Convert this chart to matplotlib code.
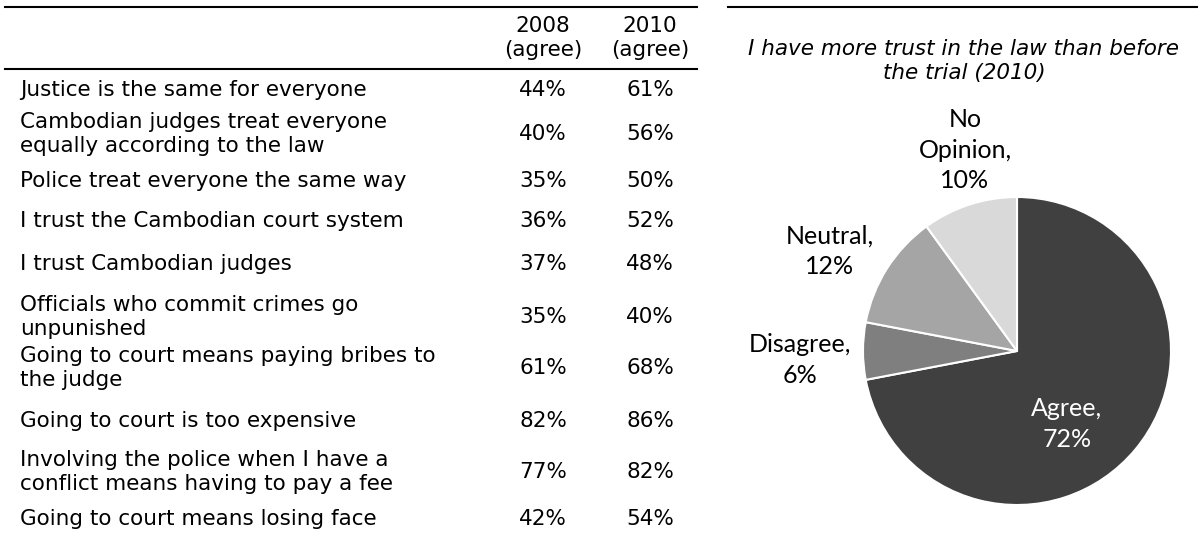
import matplotlib
matplotlib.use("Agg")
import matplotlib.pyplot as plt

plt.rcParams["font.family"] = ["DejaVu Sans"]

# table data
statements = [
    "Justice is the same for everyone",
    "Cambodian judges treat everyone\nequally according to the law",
    "Police treat everyone the same way",
    "I trust the Cambodian court system",
    "I trust Cambodian judges",
    "Officials who commit crimes go\nunpunished",
    "Going to court means paying bribes to\nthe judge",
    "Going to court is too expensive",
    "Involving the police when I have a\nconflict means having to pay a fee",
    "Going to court means losing face",
]
agree_2008 = [44, 40, 35, 36, 37, 35, 61, 82, 77, 42]
agree_2010 = [61, 56, 50, 52, 48, 40, 68, 86, 82, 54]
col_headers = ["2008\n(agree)", "2010\n(agree)"]

# pie data
pie_title = "I have more trust in the law than before\nthe trial (2010)"
pie_labels = ["Agree", "Disagree", "Neutral", "No\nOpinion"]
pie_values = [72, 6, 12, 10]
pie_colors = ["#404040", "#7f7f7f", "#a5a5a5", "#d9d9d9"]

W, H = 1198, 541
fig = plt.figure(figsize=(W / 100, H / 100), dpi=100)

# pie first, the text layer goes on top of it
cx, cy, r = 1017, 351, 154
pax = fig.add_axes([(cx - r) / W, (H - cy - r) / H, 2 * r / W, 2 * r / H])
pax.pie(pie_values, colors=pie_colors, startangle=90, counterclock=False,
        wedgeprops=dict(edgecolor="white", linewidth=1.5))
pax.set_xlim(-1, 1)
pax.set_ylim(-1, 1)
pax.set_aspect("equal")

# overlay axes in pixel coords for the table and labels
ax = fig.add_axes([0, 0, 1, 1])
ax.set_xlim(0, W)
ax.set_ylim(H, 0)
ax.axis("off")
ax.set_zorder(5)

ax.plot([5, 697], [7, 7], color="black", lw=1.5)
ax.plot([5, 697], [69, 69], color="black", lw=1.5)
ax.plot([728, 1198], [7, 7], color="black", lw=1.5)

fs = 15.5
ls = 1.27
col_x = [543, 650]
for x, h in zip(col_x, col_headers):
    ax.text(x, 38, h, ha="center", va="center", fontsize=fs, linespacing=ls)

row_y = [90, 134, 181, 221, 264, 317, 368, 421, 472, 519]
for y, s, a, b in zip(row_y, statements, agree_2008, agree_2010):
    ax.text(20, y, s, ha="left", va="center", fontsize=fs, linespacing=ls)
    ax.text(col_x[0], y, f"{a}%", ha="center", va="center", fontsize=fs)
    ax.text(col_x[1], y, f"{b}%", ha="center", va="center", fontsize=fs)

ax.text(964, 61, pie_title, ha="center", va="center", fontsize=fs,
        style="italic", linespacing=ls)

label_pos = [(1067, 424), (800, 360), (830, 251), (965, 150)]
for (lx, ly), lab, v in zip(label_pos, pie_labels, pie_values):
    col = "white" if lab == "Agree" else "black"
    ax.text(lx, ly, f"{lab},\n{v}%", ha="center", va="center", fontsize=18,
            family="Lato", color=col, linespacing=1.4)

fig.savefig("out.png", dpi=100)
